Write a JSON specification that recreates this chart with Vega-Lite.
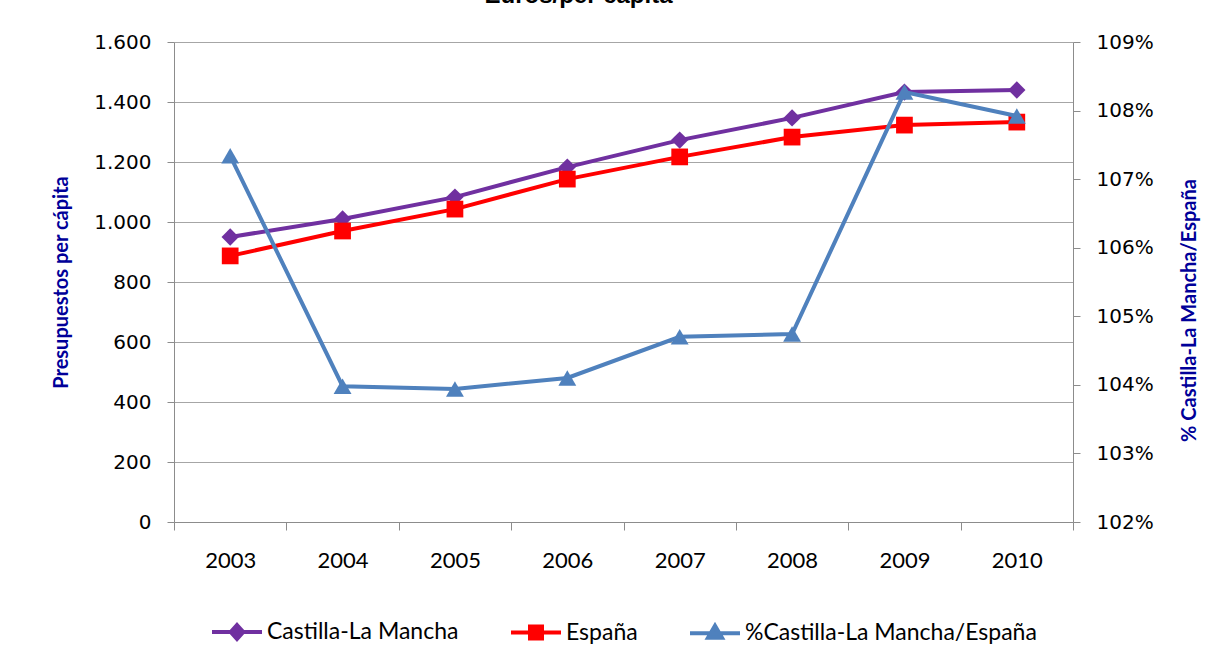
{
  "$schema": "https://vega.github.io/schema/vega-lite/v6.json",
  "autosize": "none",
  "width": 899,
  "height": 480,
  "padding": {"left": 174, "top": 42, "right": 152, "bottom": 138},
  "background": "white",
  "title": {
    "text": "Euros/per cápita",
    "font": "Liberation Sans",
    "fontSize": 24,
    "fontWeight": "bold",
    "color": "black",
    "anchor": "middle",
    "baseline": "alphabetic",
    "offset": 5,
    "dx": -45
  },
  "data": {
    "values": [
      {"year": "2003", "serie": "Castilla-La Mancha", "value": 950},
      {"year": "2004", "serie": "Castilla-La Mancha", "value": 1010},
      {"year": "2005", "serie": "Castilla-La Mancha", "value": 1083},
      {"year": "2006", "serie": "Castilla-La Mancha", "value": 1183},
      {"year": "2007", "serie": "Castilla-La Mancha", "value": 1273},
      {"year": "2008", "serie": "Castilla-La Mancha", "value": 1347},
      {"year": "2009", "serie": "Castilla-La Mancha", "value": 1433},
      {"year": "2010", "serie": "Castilla-La Mancha", "value": 1440},
      {"year": "2003", "serie": "España", "value": 887},
      {"year": "2004", "serie": "España", "value": 970},
      {"year": "2005", "serie": "España", "value": 1043},
      {"year": "2006", "serie": "España", "value": 1143},
      {"year": "2007", "serie": "España", "value": 1217},
      {"year": "2008", "serie": "España", "value": 1283},
      {"year": "2009", "serie": "España", "value": 1323},
      {"year": "2010", "serie": "España", "value": 1333},
      {"year": "2003", "serie": "%Castilla-La Mancha/España", "pct": 1.0734},
      {"year": "2004", "serie": "%Castilla-La Mancha/España", "pct": 1.0398},
      {"year": "2005", "serie": "%Castilla-La Mancha/España", "pct": 1.0394},
      {"year": "2006", "serie": "%Castilla-La Mancha/España", "pct": 1.0410},
      {"year": "2007", "serie": "%Castilla-La Mancha/España", "pct": 1.0470},
      {"year": "2008", "serie": "%Castilla-La Mancha/España", "pct": 1.0474},
      {"year": "2009", "serie": "%Castilla-La Mancha/España", "pct": 1.0827},
      {"year": "2010", "serie": "%Castilla-La Mancha/España", "pct": 1.0792}
    ]
  },
  "encoding": {
    "x": {
      "field": "year",
      "type": "ordinal",
      "bandPosition": 0.5,
      "scale": {"type": "band", "paddingInner": 0, "paddingOuter": 0},
      "axis": {
        "title": null,
        "labelAngle": 0,
        "tickBand": "extent",
        "tickSize": 8,
        "labelPadding": 20,
        "labelFont": "Lato",
        "labelFontSize": 22,
        "labelColor": "#000000",
        "domainColor": "#8c8c8c",
        "tickColor": "#8c8c8c",
        "grid": false
      }
    },
    "color": {
      "field": "serie",
      "type": "nominal",
      "scale": {
        "domain": ["Castilla-La Mancha", "España", "%Castilla-La Mancha/España"],
        "range": ["#7030a0", "#ff0000", "#4f81bd"]
      },
      "legend": {
        "title": null,
        "orient": "none",
        "legendX": 36,
        "legendY": 563,
        "direction": "horizontal",
        "symbolSize": 2500,
        "symbolStrokeWidth": 4,
        "labelFont": "Lato",
        "labelFontSize": 23,
        "labelColor": "#000000",
        "labelOffset": 3,
        "columnPadding": 44,
        "labelLimit": 400,
        "encode": {
          "symbols": {
            "update": {
              "shape": {"signal": "datum.value === 'Castilla-La Mancha' ? 'M-1,0L1,0M0,-0.28L0.25,0L0,0.28L-0.25,0Z' : datum.value === 'España' ? 'M-1,0L1,0M-0.24,-0.24L0.24,-0.24L0.24,0.24L-0.24,0.24Z' : 'M-1,0L1,0M0,-0.3L0.28,0.18L-0.28,0.18Z'"},
              "fill": {"signal": "scale('color', datum.value)"},
              "stroke": {"signal": "scale('color', datum.value)"},
              "strokeWidth": {"value": 4},
              "opacity": {"value": 1}
            }
          }
        }
      }
    }
  },
  "layer": [
    {
      "transform": [{"filter": "datum.serie !== '%Castilla-La Mancha/España'"}],
      "encoding": {
        "y": {
          "field": "value",
          "type": "quantitative",
          "scale": {"domain": [0, 1600]},
          "axis": {
            "title": "Presupuestos per cápita",
            "titleFont": "Lato",
            "titleFontSize": 20,
            "titleFontWeight": "bold",
            "titleColor": "#000099",
            "titlePadding": 22,
            "values": [0, 200, 400, 600, 800, 1000, 1200, 1400, 1600],
            "format": ",d",
            "labelFont": "DejaVu Sans",
            "labelFontSize": 20,
            "labelColor": "#000000",
            "labelPadding": 16,
            "tickSize": 7,
            "tickColor": "#8c8c8c",
            "domainColor": "#8c8c8c",
            "grid": true,
            "gridColor": "#a6a6a6",
            "gridWidth": 1.2
          }
        }
      },
      "layer": [
        {"mark": {"type": "line", "strokeWidth": 4}, "encoding": {}},
        {
          "transform": [{"filter": "datum.serie === 'Castilla-La Mancha'"}],
          "mark": {"type": "point", "filled": true, "opacity": 1, "shape": "diamond", "size": 300},
          "encoding": {}
        },
        {
          "transform": [{"filter": "datum.serie === 'España'"}],
          "mark": {"type": "point", "filled": true, "opacity": 1, "shape": "square", "size": 280},
          "encoding": {}
        }
      ]
    },
    {
      "transform": [{"filter": "datum.serie === '%Castilla-La Mancha/España'"}],
      "encoding": {
        "y": {
          "field": "pct",
          "type": "quantitative",
          "scale": {"domain": [1.02, 1.09], "zero": false},
          "axis": {
            "orient": "right",
            "title": "% Castilla-La Mancha/España",
            "titleAngle": 270,
            "titleFont": "Lato",
            "titleFontSize": 20,
            "titleFontWeight": "bold",
            "titleColor": "#000099",
            "titlePadding": 46,
            "titleY": 268,
            "values": [1.02, 1.03, 1.04, 1.05, 1.06, 1.07, 1.08, 1.09],
            "format": ".0%",
            "labelFont": "DejaVu Sans",
            "labelFontSize": 20,
            "labelColor": "#000000",
            "labelPadding": 16,
            "tickSize": 7,
            "tickColor": "#8c8c8c",
            "domainColor": "#8c8c8c",
            "grid": false
          }
        }
      },
      "layer": [
        {"mark": {"type": "line", "strokeWidth": 4}, "encoding": {}},
        {
          "mark": {"type": "point", "filled": true, "opacity": 1, "shape": "triangle-up", "size": 320},
          "encoding": {}
        }
      ]
    }
  ],
  "resolve": {"scale": {"y": "independent"}},
  "config": {
    "view": {"stroke": null},
    "locale": {
      "number": {"decimal": ",", "thousands": ".", "grouping": [3], "currency": ["", " €"]}
    }
  }
}
